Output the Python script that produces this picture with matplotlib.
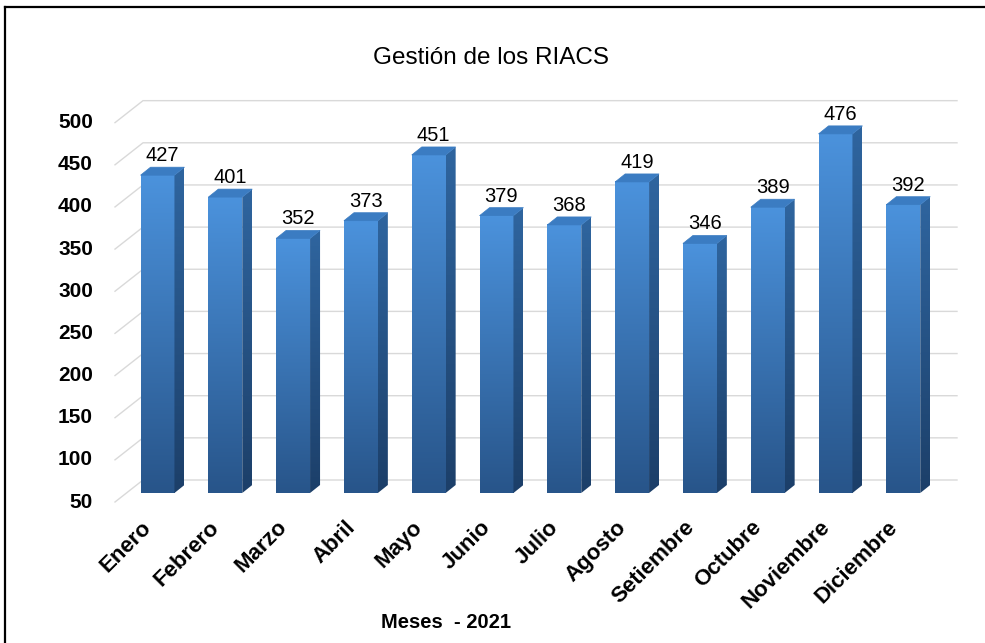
import numpy as np
import matplotlib
matplotlib.use("Agg")
import matplotlib.pyplot as plt
import matplotlib.transforms as mtransforms
from matplotlib.patches import Polygon
from matplotlib.lines import Line2D

plt.rcParams['font.family'] = ['Liberation Sans', 'DejaVu Sans']

# datos
meses = ["Enero", "Febrero", "Marzo", "Abril", "Mayo", "Junio", "Julio",
         "Agosto", "Setiembre", "Octubre", "Noviembre", "Diciembre"]
valores = [427, 401, 352, 373, 451, 379, 368, 419, 346, 389, 476, 392]
y_ticks = [50, 100, 150, 200, 250, 300, 350, 400, 450, 500]

W, H = 985, 643
fig = plt.figure(figsize=(W / 100, H / 100), dpi=100)

# layout en pixeles (medido de la imagen)
AX_L, AX_R, AX_T, AX_B = 115, 960, 90, 502
FIRST_C, STEP = 157.5, 67.8
BASE_PX, PPU = 493, 0.843   # pixel del valor 50 en la cara frontal, px por unidad
FLOOR = 50

ax = fig.add_axes([AX_L / W, 1 - AX_B / H, (AX_R - AX_L) / W, (AX_B - AX_T) / H])
xlo = -(FIRST_C - AX_L) / STEP
xhi = xlo + (AX_R - AX_L) / STEP
ylo = FLOOR - (AX_B - BASE_PX) / PPU
yhi = ylo + (AX_B - AX_T) / PPU

# profundidad en unidades de datos
ddx, ddy = 10 / STEP, 8 / PPU
front_off = -(AX_B - BASE_PX) / PPU
back_dx, back_dy = 28 / STEP, 22 / PPU
grid_end = xlo + (957 - AX_L) / STEP

# rejilla en perspectiva
for v in y_ticks:
    yf = v + front_off
    ax.plot([xlo, xlo + back_dx, grid_end], [yf, yf + back_dy, yf + back_dy],
            color="#d9d9d9", lw=1.0, zorder=1, clip_on=False)
    ax.annotate(str(v), (xlo, yf), xytext=(-22, 0), textcoords="offset pixels",
                ha="right", va="center", fontsize=15, fontweight="bold",
                color="black", annotation_clip=False)


def gradient(top, bottom, n=64):
    t = np.linspace(0, 1, n)[:, None, None]
    top = np.array(matplotlib.colors.to_rgb(top))
    bottom = np.array(matplotlib.colors.to_rgb(bottom))
    img = bottom * (1 - t) + top * t
    return img


front_img = gradient("#4b92dc", "#28558a")
side_img = gradient("#2f659f", "#1c3f69")
hw = 0.25
for i, v in enumerate(valores):
    x0, x1 = i - hw, i + hw
    # cara frontal
    ax.imshow(front_img, extent=[x0, x1, FLOOR, v], origin="lower",
              aspect="auto", zorder=3, interpolation="bilinear")
    # cara lateral
    side = Polygon([(x1, FLOOR), (x1 + ddx, FLOOR + ddy), (x1 + ddx, v + ddy), (x1, v)],
                   closed=True, facecolor="none", edgecolor="none")
    ax.add_patch(side)
    im = ax.imshow(side_img, extent=[x1, x1 + ddx, FLOOR, v + ddy], origin="lower",
                   aspect="auto", zorder=3, interpolation="bilinear")
    im.set_clip_path(side)
    # cara superior
    ax.add_patch(Polygon([(x0, v), (x0 + ddx, v + ddy), (x1 + ddx, v + ddy), (x1, v)],
                         closed=True, facecolor="#3b7cc2", edgecolor="#3b7cc2",
                         lw=0.5, zorder=4))
    ax.annotate(str(v), (i + ddx / 2, v + ddy), xytext=(0, 2), textcoords="offset pixels",
                ha="center", va="bottom", fontsize=14.5, color="black", zorder=5)

ax.set_xlim(xlo, xhi)
ax.set_ylim(ylo, yhi)
ax.set_yticks([])
ax.set_xticks(range(len(meses)))
ax.set_xticklabels(meses, rotation=45, ha="right", va="center",
                   rotation_mode="anchor", fontsize=16, fontweight="bold")
ax.tick_params(axis="x", length=0, pad=16)
shift = mtransforms.ScaledTranslation(-0.09, 0, fig.dpi_scale_trans)
for lbl in ax.get_xticklabels():
    lbl.set_transform(lbl.get_transform() + shift)
for s in ax.spines.values():
    s.set_visible(False)
ax.patch.set_visible(False)

fig.text(491 / W, 1 - 58 / H, "Gestión de los RIACS", ha="center", va="center",
         fontsize=17.5, color="black")
fig.text(446 / W, 1 - 622 / H, "Meses  - 2021", ha="center", va="center",
         fontsize=14.5, fontweight="bold", color="black")

# marco
fig.add_artist(Line2D([5 / W, 1], [1 - 7 / H, 1 - 7 / H], color="black", lw=1.6,
                      transform=fig.transFigure))
fig.add_artist(Line2D([5 / W, 5 / W], [0, 1 - 7 / H], color="black", lw=1.6,
                      transform=fig.transFigure))

fig.savefig("out.png", dpi=100)
